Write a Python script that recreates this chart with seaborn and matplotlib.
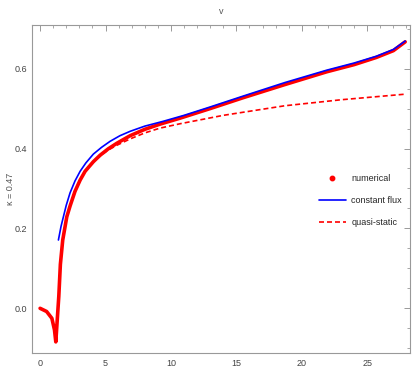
import numpy as np
import pandas as pd
import matplotlib.pyplot as plt
import seaborn as sns
from matplotlib.lines import Line2D
from matplotlib.ticker import MultipleLocator

# values
num_x = [0, 0.5, 0.9, 1.1, 1.2, 1.43, 1.55, 1.73, 2.04, 2.29, 2.67, 3.06, 3.44, 4.07,
         4.58, 5.2, 5.86, 6.88, 8.0, 9.16, 10.7, 13.0, 15.5, 18.7, 21.9, 24.0, 25.7,
         27.0, 27.9]
num_y = [0, -0.008, -0.025, -0.054, -0.084, 0.03, 0.11, 0.171, 0.229, 0.256, 0.293,
         0.321, 0.343, 0.367, 0.383, 0.399, 0.413, 0.432, 0.448, 0.461, 0.476, 0.5,
         0.527, 0.56, 0.592, 0.61, 0.628, 0.645, 0.667]

flux_x = [1.4, 1.6, 1.78, 2.0, 2.29, 2.67, 3.06, 3.5, 4.07, 4.7, 5.35, 6.1, 6.88, 8.0,
          9.4, 11.0, 13.0, 15.5, 18.7, 21.9, 24.0, 25.7, 27.0, 27.9]
flux_y = [0.171, 0.205, 0.229, 0.258, 0.289, 0.319, 0.343, 0.364, 0.386, 0.403, 0.418,
          0.432, 0.443, 0.456, 0.468, 0.483, 0.504, 0.531, 0.565, 0.596, 0.614, 0.631,
          0.648, 0.669]

qs_x = [1.2, 1.43, 1.55, 1.73, 2.04, 2.29, 2.67, 3.06, 3.44, 4.07, 4.58, 5.2, 5.86,
        6.88, 8.0, 9.16, 10.7, 14.0, 18.7, 23.0, 27.9]
qs_y = [-0.084, 0.03, 0.11, 0.171, 0.229, 0.256, 0.293, 0.321, 0.343, 0.366, 0.381,
        0.396, 0.408, 0.424, 0.439, 0.451, 0.462, 0.483, 0.507, 0.522, 0.536]

labels = ['numerical', 'constant flux', 'quasi-static']

sns.set_style("white")
plt.rcParams['font.family'] = ['Liberation Sans', 'DejaVu Sans']

fig = plt.figure(figsize=(4.15, 3.74), dpi=100)
ax = fig.add_axes([0.078, 0.056, 0.91, 0.877])

dash = (0, (3, 1.8))
sns.lineplot(x=num_x, y=num_y, ax=ax, color='red', linewidth=2.6, sort=False)
sns.lineplot(x=flux_x, y=flux_y, ax=ax, color='blue', linewidth=1.2, sort=False)
sns.lineplot(x=qs_x, y=qs_y, ax=ax, color='red', linewidth=1.2, sort=False,
             linestyle=dash)

ax.set_xlim(-0.59, 28.27)
ax.set_ylim(-0.112, 0.709)

for s in ax.spines.values():
    s.set_color('#999999')
    s.set_linewidth(0.8)
ax.xaxis.set_major_locator(MultipleLocator(5))
ax.xaxis.set_minor_locator(MultipleLocator(1))
ax.yaxis.set_major_locator(MultipleLocator(0.2))
ax.yaxis.set_minor_locator(MultipleLocator(0.05))
ax.tick_params(which='both', direction='in', top=True, right=True, colors='#999999',
               labelcolor='#444444', labelsize=6.5)
ax.tick_params(which='major', length=4, width=0.7, pad=4)
ax.tick_params(which='minor', length=2, width=0.6)
ax.yaxis.set_major_formatter(plt.FuncFormatter(lambda v, p: f"{v:.1f}"))

ax.set_title('v', fontsize=6.5, color='#555555', pad=8)
ax.set_ylabel('κ = 0.47', fontsize=6.5, color='#555555')
ax.yaxis.set_label_coords(-0.045, 0.5)

handles = [Line2D([], [], color='red', marker='o', linestyle='none', markersize=3.2),
           Line2D([], [], color='blue', linewidth=1.2),
           Line2D([], [], color='red', linewidth=1.2, linestyle=dash)]
ax.legend(handles, labels, loc='center right',
          bbox_to_anchor=(1.0, 0.465), frameon=False, fontsize=6.5, handlelength=3.0,
          handletextpad=0.6, labelspacing=1.45)

fig.savefig('out.png', dpi=100)
